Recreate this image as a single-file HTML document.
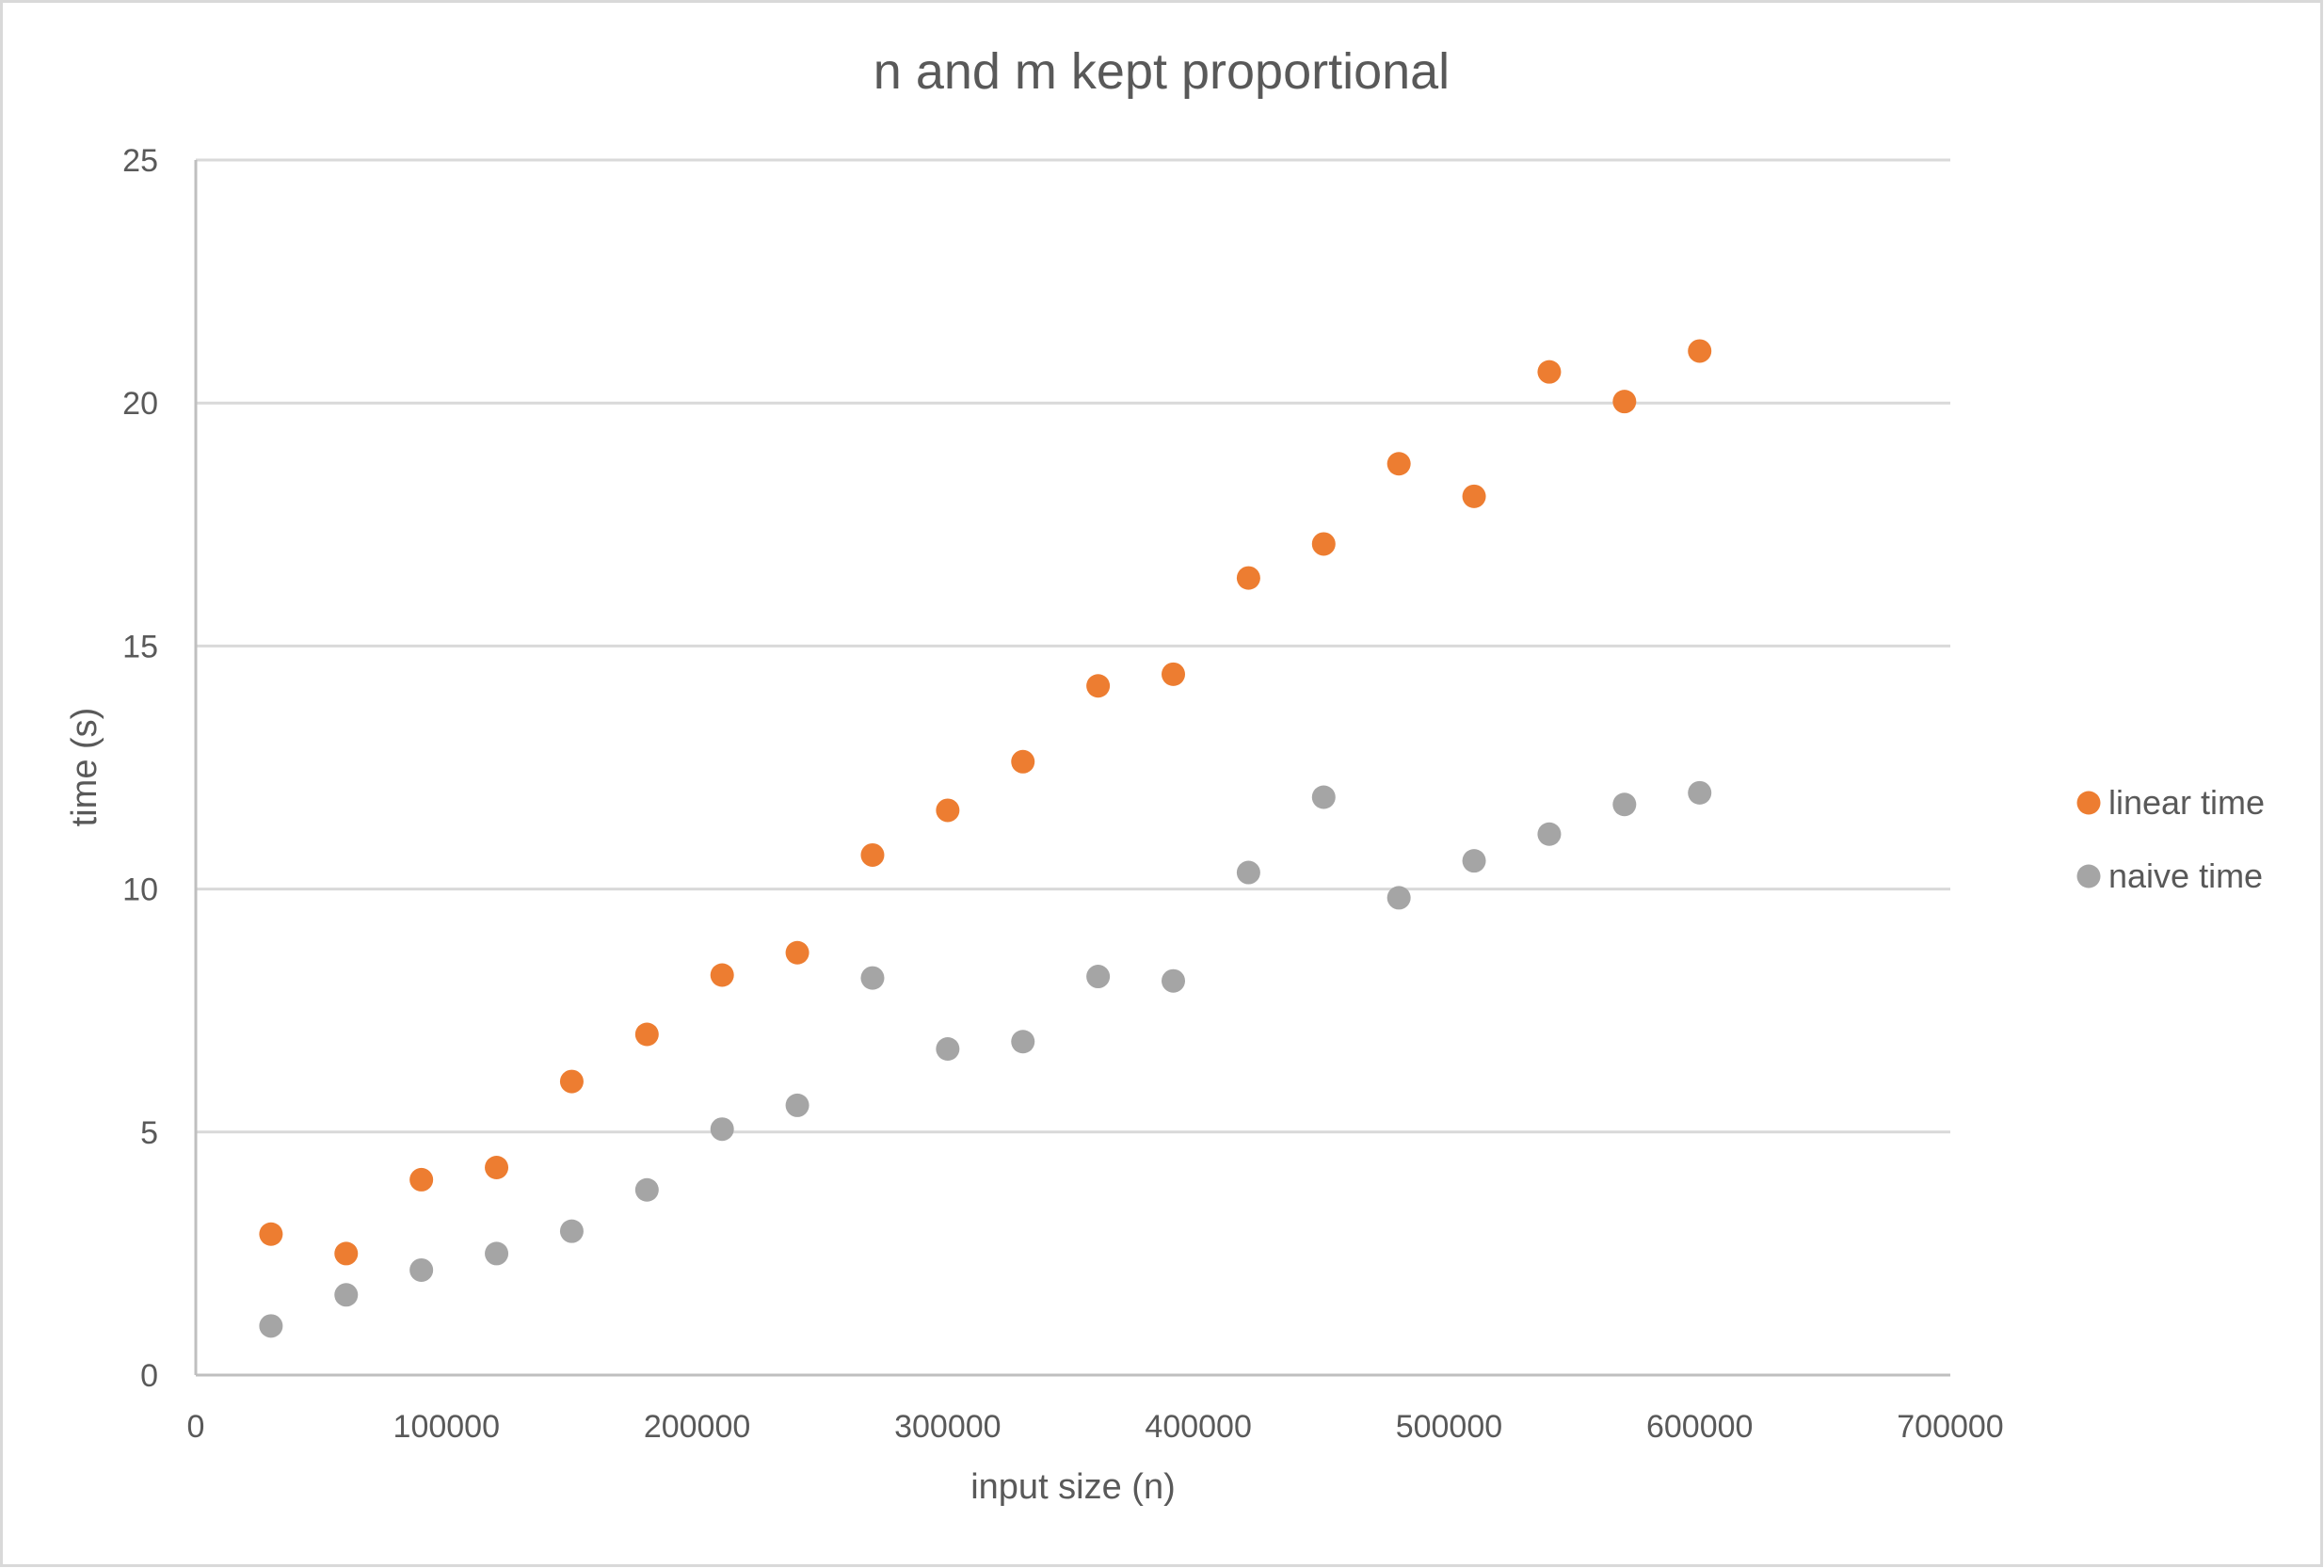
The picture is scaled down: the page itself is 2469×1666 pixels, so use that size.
<!DOCTYPE html>
<html><head><meta charset="utf-8"><style>
html,body{margin:0;padding:0;background:#fff}
svg{display:block}
text{font-family:"Liberation Sans",sans-serif;fill:#595959}
</style></head><body>
<svg id="chart" width="2469" height="1666" viewBox="0 0 2469 1666" xmlns="http://www.w3.org/2000/svg">
<rect x="1.5" y="1.5" width="2465" height="1662" fill="#fff" stroke="#d9d9d9" stroke-width="3"/>
<text x="1234" y="94" font-size="54" text-anchor="middle">n and m kept proportional</text>
<g id="grid"></g>
<g id="axes"></g>
<g id="marks"></g>
<text x="1140" y="1592" font-size="38" text-anchor="middle">input size (n)</text>
<text transform="translate(102,815) rotate(-90)" font-size="38" text-anchor="middle">time (s)</text>
<g>
<g>
<circle cx="2219" cy="853" r="12.5" fill="#ed7d31"/>
<text x="2240" y="865" font-size="36">linear time</text></g>
<g>
<circle cx="2219" cy="931" r="12.5" fill="#a5a5a5"/>
<text x="2240" y="943" font-size="36">naive time</text></g>
</g>
</svg>
<script>
const xValues=[30000,60000,90000,120000,150000,180000,210000,240000,270000,300000,330000,360000,390000,420000,450000,480000,510000,540000,570000,600000];
const linearTime=[2.90,2.50,4.02,4.27,6.04,7.01,8.23,8.69,10.70,11.62,12.62,14.18,14.42,16.40,17.10,18.75,18.08,20.64,20.03,21.07];
const naiveTime=[1.01,1.65,2.16,2.50,2.96,3.81,5.06,5.55,8.17,6.71,6.86,8.20,8.11,10.34,11.89,9.82,10.58,11.13,11.74,11.98];
const xTicks=[0,100000,200000,300000,400000,500000,600000,700000];
const yTicks=[0,5,10,15,20,25];

const NS="http://www.w3.org/2000/svg";
const X0=208,X1=2072,Y0=1461,Y1=170;
function xs(v){return X0+(v-0)/(700000-0)*(X1-X0);}
function ys(v){return Y0-(v-0)/(25-0)*(Y0-Y1);}
function mk(tag,attrs,parent){const e=document.createElementNS(NS,tag);for(const k in attrs)e.setAttribute(k,attrs[k]);parent.appendChild(e);return e;}
const grid=document.getElementById('grid'),axes=document.getElementById('axes'),marks=document.getElementById('marks');
yTicks.forEach(t=>{
  if(t>0){const l=mk('line',{x1:X0,x2:X1,y1:ys(t),y2:ys(t),stroke:'#d9d9d9','stroke-width':3},grid);
  
  }
  const tx=mk('text',{x:168,y:ys(t)+12,'font-size':34,'text-anchor':'end'},axes);
  tx.textContent=t;
  
  
});
xTicks.forEach(t=>{
  const tx=mk('text',{x:xs(t),y:1527,'font-size':34,'text-anchor':'middle'},axes);
  tx.textContent=t;
  
  
});
const ya=mk('line',{x1:X0,x2:X0,y1:Y1,y2:Y0,stroke:'#bfbfbf','stroke-width':3},axes);


const xa=mk('line',{x1:X0,x2:X1,y1:Y0,y2:Y0,stroke:'#bfbfbf','stroke-width':3},axes);


function series(vals,color,name){
  vals.forEach((v,i)=>{
    const c=mk('circle',{cx:xs(xValues[i]),cy:ys(v),r:12.5,fill:color},marks);
    
    
  });
}
series(naiveTime,'#a5a5a5','point-naive-time');
series(linearTime,'#ed7d31','point-linear-time');
</script>
</body></html>
